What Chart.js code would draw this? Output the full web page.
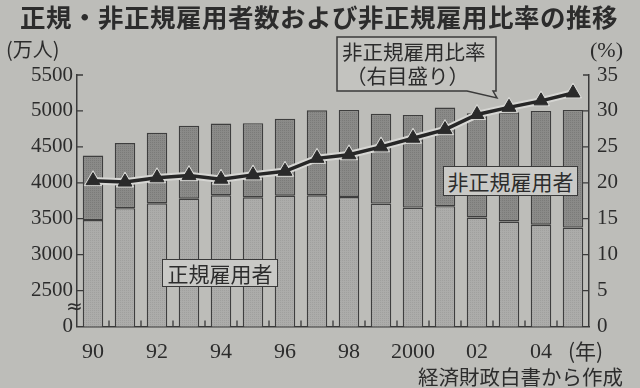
<!DOCTYPE html>
<html><head><meta charset="utf-8">
<script src="https://cdn.jsdelivr.net/npm/chart.js@4"></script>
<style>
html,body{margin:0;padding:0;background:#bdbdb9;}
#wrap{position:relative;width:640px;height:388px;background:#bdbdb9;overflow:hidden;font-family:"Noto Sans CJK JP","Noto Sans",sans-serif;color:#2c2c2c;}
#c{position:absolute;left:0;top:0;}
.t{position:absolute;white-space:nowrap;line-height:1;}
.box{position:absolute;background:#c9c9c6;border:1.5px solid #3a3a3a;box-sizing:border-box;display:flex;align-items:center;justify-content:center;font-size:21px;line-height:1;}
</style></head>
<body>
<div id="wrap">
<canvas id="c" width="640" height="388"></canvas>
<div class="t" style="left:20px;top:3px;font-size:25.5px;font-weight:700;letter-spacing:0.5px;">正規・非正規雇用者数および非正規雇用比率の推移</div>
<div class="t" style="left:6px;top:39px;font-size:20px;">(万人)</div>
<div class="t" style="left:590px;top:39px;font-size:22px;font-family:'Liberation Serif',serif;">(%)</div>
<svg style="position:absolute;left:0;top:0" width="640" height="388">
<path d="M337 37 L496 37 L496 91 L493 91 L497 98 L467 91 L337 91 Z" fill="#c3c3bf" stroke="#3a3a3a" stroke-width="1.5" stroke-linejoin="miter"/>
</svg>
<div class="t" style="left:342px;top:41px;font-size:20.5px;">非正規雇用比率</div>
<div class="t" style="left:346px;top:65px;font-size:20.5px;">（右目盛り）</div>
<div class="box" style="left:443px;top:166px;width:135px;height:30px;">非正規雇用者</div>
<div class="box" style="left:162px;top:259px;width:116px;height:28px;">正規雇用者</div>
<div class="t" style="left:66px;top:296px;font-size:20px;font-family:'DejaVu Sans',sans-serif;">≈</div>
<div class="t" style="left:568px;top:340px;font-size:21px;">(年)</div>
<div class="t" style="left:418px;top:366px;font-size:20.5px;">経済財政白書から作成</div>
</div>
<script>
// ---- data ----
const years = ['1990','1991','1992','1993','1994','1995','1996','1997','1998','1999','2000','2001','2002','2003','2004','2005'];
const xTickLabels = ['90','','92','','94','','96','','98','','2000','','02','','04',''];
const regular = [3481, 3646, 3715, 3779, 3826, 3798, 3820, 3826, 3802, 3710, 3655, 3674, 3517, 3461, 3416, 3377];
const nonRegular = [898, 906, 981, 1014, 999, 1031, 1070, 1182, 1212, 1249, 1290, 1372, 1450, 1520, 1584, 1637];
const ratio = [20.3, 20.1, 20.7, 21.0, 20.5, 21.1, 21.6, 23.4, 23.9, 25.0, 26.2, 27.4, 29.5, 30.5, 31.4, 32.5];
const leftTicks = [2000, 2500, 3000, 3500, 4000, 4500, 5000, 5500];
const rightTicks = [0, 5, 10, 15, 20, 25, 30, 35];

function makePattern(base, dot){
  const p = document.createElement('canvas'); p.width = 4; p.height = 4;
  const g = p.getContext('2d');
  g.fillStyle = base; g.fillRect(0,0,4,4);
  g.fillStyle = dot;
  g.fillRect(0,0,1,1); g.fillRect(2,2,1,1); g.fillRect(2,0,1,1); g.fillRect(0,2,1,1);
  return g.createPattern(p, 'repeat');
}
const regFill = makePattern('#acacaa', '#a0a09e');
const nonFill = makePattern('#8a8a88', '#7b7b79');

const inwardTicks = {
  id: 'inwardTicks',
  afterDatasetsDraw(chart){
    const ctx = chart.ctx, y = chart.scales.y, y1 = chart.scales.y1, x = chart.scales.x;
    const bottom = chart.chartArea.bottom;
    ctx.save();
    ctx.strokeStyle = '#3a3a3a'; ctx.lineWidth = 1.3;
    ctx.beginPath();
    leftTicks.forEach(v => { if (v === leftTicks[0]) return; const py = y.getPixelForValue(v); ctx.moveTo(y.right, py); ctx.lineTo(y.right + 6, py); });
    rightTicks.forEach(v => { if (v === rightTicks[0]) return; const py = y1.getPixelForValue(v); ctx.moveTo(y1.left, py); ctx.lineTo(y1.left - 6, py); });
    for (let i = 1; i < years.length; i++) {
      const px = (x.getPixelForValue(i - 1) + x.getPixelForValue(i)) / 2;
      ctx.moveTo(px, bottom); ctx.lineTo(px, bottom - 6);
    }
    ctx.stroke();
    ctx.restore();
  }
};

new Chart(document.getElementById('c'), {
  type: 'bar',
  data: {
    labels: years,
    datasets: [
      { type:'line', label:'ratio', data: ratio, yAxisID:'y1', order:0,
        borderColor:'#262626', borderWidth:3.5, tension:0,
        pointStyle:'triangle', pointRadius:8, pointBackgroundColor:'#2a2a2a', pointBorderColor:'#2a2a2a', pointBorderWidth:1 },
      { type:'line', label:'ratio-halo', data: ratio, yAxisID:'y1', order:1,
        borderColor:'#d6d6d3', borderWidth:7.5, tension:0,
        pointStyle:'triangle', pointRadius:10, pointBackgroundColor:'#d6d6d3', pointBorderColor:'#d6d6d3', pointBorderWidth:1 },
      { label:'正規雇用者', data: regular, yAxisID:'y', order:2, stack:'s',
        backgroundColor: regFill, borderColor:'#3e3e3e', borderWidth:1.4, borderSkipped:false,
        barPercentage:0.64, categoryPercentage:1 },
      { label:'非正規雇用者', data: nonRegular, yAxisID:'y', order:3, stack:'s',
        backgroundColor: nonFill, borderColor:'#3e3e3e', borderWidth:1.4, borderSkipped:false,
        barPercentage:0.64, categoryPercentage:1 }
    ]
  },
  options: {
    responsive:false, animation:false,
    layout:{ padding:{ top:75, left:0, right:0, bottom:0 } },
    plugins:{ legend:{display:false}, tooltip:{enabled:false}, title:{display:false} },
    scales:{
      x:{ stacked:true,
        grid:{ display:false, drawTicks:false },
        border:{ display:true, color:'#3a3a3a', width:1.5 },
        ticks:{ autoSkip:false, maxRotation:0, padding:13, color:'#2c2c2c',
          font:{ family:'"Liberation Serif", serif', size:22 },
          callback:(v,i)=> xTickLabels[i] },
        afterFit:(s)=>{ s.height = 61.5; }
      },
      y:{ stacked:true, position:'left', min:2000, max:5500,
        grid:{ drawOnChartArea:false, drawTicks:false },
        border:{ display:true, color:'#3a3a3a', width:1.5 },
        ticks:{ stepSize:500, padding:4, color:'#2c2c2c',
          font:{ family:'"Liberation Serif", serif', size:21 },
          callback:(v)=> v === leftTicks[0] ? '0' : String(v) },
        afterBuildTicks:(s)=>{ s.ticks = leftTicks.map(v=>({value:v})); },
        afterFit:(s)=>{ s.width = 77; }
      },
      y1:{ position:'right', min:0, max:35,
        grid:{ drawOnChartArea:false, drawTicks:false },
        border:{ display:true, color:'#3a3a3a', width:1.5 },
        ticks:{ stepSize:5, padding:8, color:'#2c2c2c',
          font:{ family:'"Liberation Serif", serif', size:21 } },
        afterBuildTicks:(s)=>{ s.ticks = rightTicks.map(v=>({value:v})); },
        afterFit:(s)=>{ s.width = 51; }
      }
    }
  },
  plugins:[inwardTicks]
});
</script>
</body></html>
